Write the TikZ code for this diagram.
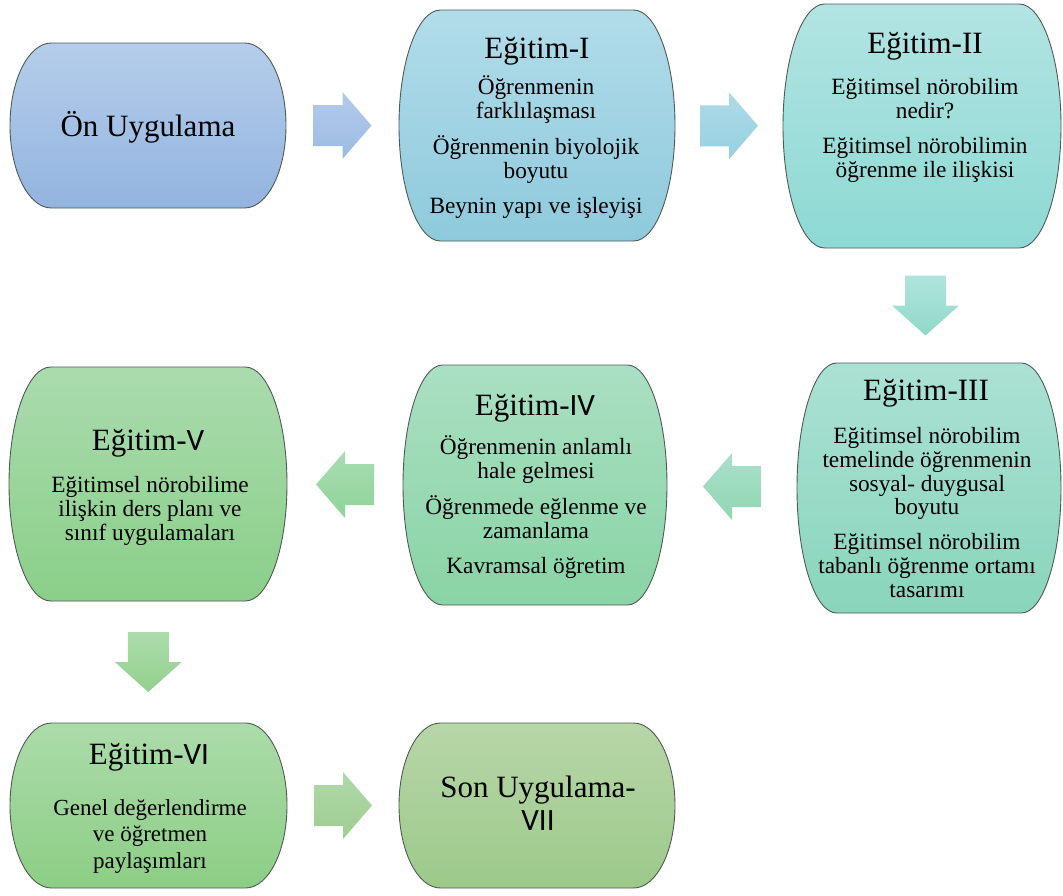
\documentclass[tikz,border=0pt]{standalone}
\usepackage{fontspec}
\setmainfont{Liberation Serif}
\newfontfamily\numfont{Carlito}
\usetikzlibrary{calc}

% box fills (top -> bottom)
\definecolor{onT}{HTML}{B5CDEA}\definecolor{onB}{HTML}{93B4E0}
\definecolor{eaT}{HTML}{B2DCEA}\definecolor{eaB}{HTML}{8ECADC}
\definecolor{ebT}{HTML}{B2E4E3}\definecolor{ebB}{HTML}{8DD9D3}
\definecolor{ecT}{HTML}{ABE1D4}\definecolor{ecB}{HTML}{89D5BB}
\definecolor{edT}{HTML}{AADFC3}\definecolor{edB}{HTML}{89D4A5}
\definecolor{eeT}{HTML}{AADBAE}\definecolor{eeB}{HTML}{8BCF89}
\definecolor{efT}{HTML}{ACDBAA}\definecolor{efB}{HTML}{8CCE85}
\definecolor{egT}{HTML}{B8D6A8}\definecolor{egB}{HTML}{9CC98A}
% block arrow fills
\definecolor{aaT}{HTML}{B3CBEA}\definecolor{aaB}{HTML}{9BBBE3}
\definecolor{abT}{HTML}{AEDBE8}\definecolor{abB}{HTML}{97D0E0}
\definecolor{acT}{HTML}{B0E4DD}\definecolor{acB}{HTML}{90D9C8}
\definecolor{adT}{HTML}{A9E0CB}\definecolor{adB}{HTML}{91D6B2}
\definecolor{aeT}{HTML}{A8DDB3}\definecolor{aeB}{HTML}{90D398}
\definecolor{afT}{HTML}{ADDCAC}\definecolor{afB}{HTML}{93D08C}
\definecolor{agT}{HTML}{B0D8A8}\definecolor{agB}{HTML}{9ECD92}
\definecolor{edge}{HTML}{505A55}

\tikzset{
  geom/.style={inner sep=0pt, outer sep=0pt, minimum width=0pt, minimum height=0pt},
  boxline/.style={draw=edge, line width=0.9pt},
  % anchor=base sits on the baseline of the last line
  heading/.style={anchor=base, inner sep=0pt, align=center, font=\fontsize{31}{33}\selectfont},
  bodytext/.style={anchor=base, inner sep=0pt, align=center, font=\fontsize{23.3}{23.7}\selectfont},
  pics/arrowR/.style n args={2}{code={
    \path[top color=#1, bottom color=#2] (-29,-20.5) -- (0,-20.5) -- (0,-33.5) -- (29,0)
      -- (0,33.5) -- (0,20.5) -- (-29,20.5) -- cycle;}},
  pics/arrowL/.style n args={2}{code={
    \path[top color=#1, bottom color=#2] (29,-20.5) -- (0,-20.5) -- (0,-33.5) -- (-29,0)
      -- (0,33.5) -- (0,20.5) -- (29,20.5) -- cycle;}},
  pics/arrowD/.style n args={2}{code={
    \path[top color=#1, bottom color=#2] (-20.5,30) -- (20.5,30) -- (20.5,0) -- (33.5,0)
      -- (0,-30) -- (-33.5,0) -- (-20.5,0) -- cycle;}},
}

% terminator box: name, centre x, centre y, width, height, top colour, bottom colour
\newcommand\tbox[7]{%
  \node[geom, minimum width=#4pt, minimum height=#5pt] (#1) at (#2,-#3) {};
  \pgfmathsetmacro\bxr{0.15*#4}\pgfmathsetmacro\byr{#5/2}%
  \draw[boxline, top color=#6, bottom color=#7]
    ([xshift=\bxr pt]#1.north west) -- ([xshift=-\bxr pt]#1.north east)
    arc[start angle=90, end angle=-90, x radius=\bxr pt, y radius=\byr pt]
    -- ([xshift=\bxr pt]#1.south west)
    arc[start angle=270, end angle=90, x radius=\bxr pt, y radius=\byr pt] -- cycle;
}
\newcommand\pgap{\\[11.5pt]}

\begin{document}
\begin{tikzpicture}[x=1pt, y=1pt]
\path[use as bounding box] (0,0) rectangle (1063,-895);

% boxes
\tbox{on}{148}{125.5}{276}{165}{onT}{onB}
\tbox{e1}{537}{125.5}{276}{231}{eaT}{eaB}
\tbox{e2}{922}{126}{278}{244}{ebT}{ebB}
\tbox{e3}{929}{488}{264}{250}{ecT}{ecB}
\tbox{e4}{535}{485}{264}{240}{edT}{edB}
\tbox{e5}{148}{484}{278}{234}{eeT}{eeB}
\tbox{e6}{148.5}{805.5}{277}{165}{efT}{efB}
\tbox{e7}{537}{805.5}{276}{165}{egT}{egB}

% block arrows between the boxes
\pic at ($(on.east)!0.5!(e1.west)$) {arrowR={aaT}{aaB}};
\pic at ($(e1.east)!0.5!(e2.west)$) {arrowR={abT}{abB}};
\pic at ($(e2.south)!0.5!(e3.north)$) {arrowD={acT}{acB}};
\pic at ($(e3.west)!0.5!(e4.east)$) {arrowL={adT}{adB}};
\pic at ($(e4.west)!0.5!(e5.east)$) {arrowL={aeT}{aeB}};
\pic at ($(e5.south)!0.5!(e6.north)$) {arrowD={afT}{afB}};
\pic at ($(e6.east)!0.5!(e7.west)$) {arrowR={agT}{agB}};

% texts
\node[heading] (t0) at (148,-136) {Ön Uygulama};

\node[heading] (t1) at (537,-58) {Eğitim-I};
\node[bodytext] (b1) at (536,-213.3) {Öğrenmenin\\farklılaşması\pgap Öğrenmenin biyolojik\\boyutu\pgap Beynin yapı ve işleyişi};

\node[heading] (t2) at (925,-53) {Eğitim-II};
\node[bodytext] (b2) at (925,-177) {Eğitimsel nörobilim\\nedir?\pgap Eğitimsel nörobilimin\\öğrenme ile ilişkisi};

\node[heading] (t3) at (926,-400) {Eğitim-III};
\node[bodytext] (b3) at (927,-597.3) {Eğitimsel nörobilim\\temelinde öğrenmenin\\sosyal- duygusal\\boyutu\pgap Eğitimsel nörobilim\\tabanlı öğrenme ortamı\\tasarımı};

\node[heading] (t4) at (535,-415) {Eğitim-{\numfont IV}};
\node[bodytext] (b4) at (536,-573.3) {Öğrenmenin anlamlı\\hale gelmesi\pgap Öğrenmede eğlenme ve\\zamanlama\pgap Kavramsal öğretim};

\node[heading] (t5) at (148,-450) {Eğitim-{\numfont V}};
\node[bodytext] (b5) at (150,-540) {Eğitimsel nörobilime\\ilişkin ders planı ve\\sınıf uygulamaları};

\node[heading] (t6) at (149,-764) {Eğitim-{\numfont VI}};
\node[bodytext, font=\fontsize{23}{26.5}\selectfont] (b6) at (150,-868.3) {Genel değerlendirme\\ve öğretmen\\paylaşımları};

\node[heading] (t7) at (538,-830.7) {Son Uygulama-\\{\numfont VII}};
\end{tikzpicture}
\end{document}
